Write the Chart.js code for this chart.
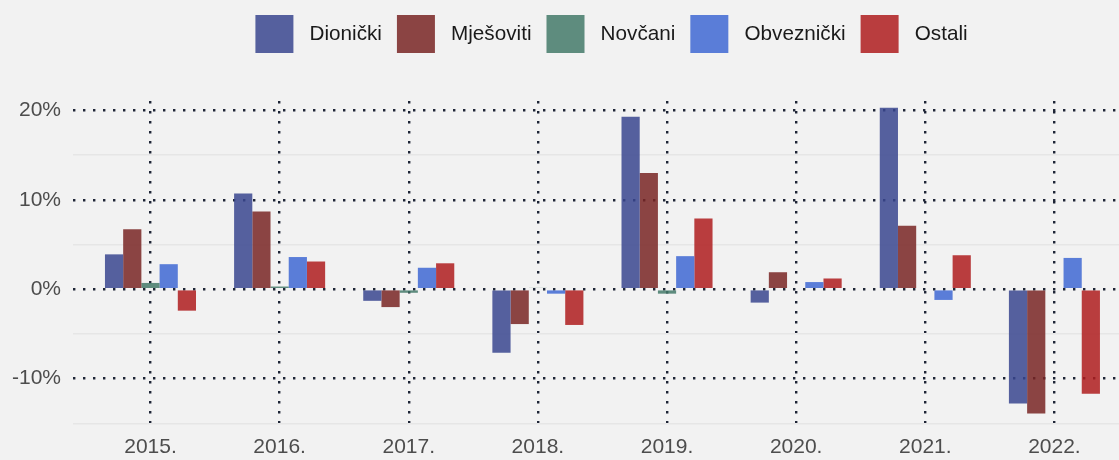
<!DOCTYPE html>
<html><head><meta charset="utf-8">
<script src="https://cdn.jsdelivr.net/npm/chart.js@4/dist/chart.umd.min.js"></script>
<style>html,body{margin:0;padding:0;background:#f2f2f2;overflow:hidden}canvas{display:block}</style>
</head><body>
<canvas id="c" width="1119" height="460"></canvas>
<script>
const categories = ['2015.','2016.','2017.','2018.','2019.','2020.','2021.','2022.'];
const seriesNames = ['Dionički','Mješoviti','Novčani','Obveznički','Ostali'];
const dionicki   = [3.9, 10.7, -1.3, -7.1, 19.3, -1.5, 20.3, -12.8];
const mjesoviti  = [6.7, 8.7, -2.0, -3.9, 13.0, 1.9, 7.1, -13.9];
const novcani    = [0.7, 0.3, -0.4, 0.15, -0.5, 0, 0, 0];
const obveznicki = [2.8, 3.6, 2.4, -0.5, 3.7, 0.8, -1.2, 3.5];
const ostali     = [-2.4, 3.1, 2.9, -4.0, 7.9, 1.2, 3.8, -11.7];
const yTickValues = [-15, -10, -5, 0, 5, 10, 15, 20];
const seriesColors = ['rgba(57,71,143,0.85)','rgba(121,38,36,0.85)','rgba(68,122,106,0.85)','rgba(63,105,211,0.85)','rgba(175,29,30,0.85)'];

const seriesValues = [dionicki, mjesoviti, novcani, obveznicki, ostali];
const FONT = "'Liberation Sans', Arial, sans-serif";
const isMajor = v => Math.abs(v % 10) < 1e-9;

const datasets = seriesNames.map((name, k) => ({
  label: name,
  data: seriesValues[k].map((v, i) => ({x: i, y: v})),
  backgroundColor: seriesColors[k],
  borderWidth: 0,
  categoryPercentage: 0.705,
  barPercentage: 1.0
}));

const legendFit = {
  id: 'legendFit',
  beforeInit(chart) {
    const orig = chart.legend.fit;
    chart.legend.fit = function () { orig.call(this); this.height = 101; };
  },
  afterLayout(chart) {
    chart.legend.left += 52;
    chart.legend.right += 52;
  }
};

new Chart(document.getElementById('c'), {
  type: 'bar',
  data: { datasets },
  plugins: [legendFit],
  options: {
    responsive: false,
    animation: false,
    devicePixelRatio: 1,
    layout: { padding: 0 },
    plugins: {
      tooltip: { enabled: false },
      legend: {
        position: 'top',
        labels: {
          font: { family: FONT, size: 20.7 },
          color: '#1a1a1a',
          boxWidth: 38,
          boxHeight: 38,
          padding: 15,
          generateLabels(chart) {
            const items = Chart.defaults.plugins.legend.labels.generateLabels(chart);
            items.forEach(it => { it.text = ' ' + it.text; it.lineWidth = 0; });
            return items;
          }
        }
      }
    },
    scales: {
      x: {
        type: 'linear',
        offset: false,
        min: -0.6,
        max: 7.5,
        afterBuildTicks(scale) { scale.ticks = categories.map((_, i) => ({ value: i })); },
        afterFit(scale) { scale.height = 32; },
        ticks: {
          callback: v => categories[v],
          font: { family: FONT, size: 21 },
          color: '#4d4d4d',
          padding: 7,
          maxRotation: 0,
          autoSkip: false
        },
        grid: {
          offset: false,
          drawTicks: false,
          color: '#1e2536',
          lineWidth: 2.4
        },
        border: { display: false, dash: [2.4, 7.6] }
      },
      y: {
        min: -15.53,
        max: 21.06,
        afterBuildTicks(scale) { scale.ticks = yTickValues.map(v => ({ value: v })); },
        afterFit(scale) { scale.width = 73; },
        ticks: {
          callback: v => isMajor(v) ? v + '%' : '',
          font: { family: FONT, size: 21 },
          color: '#4d4d4d',
          padding: 12
        },
        grid: {
          drawTicks: false,
          color: ctx => (ctx.tick && isMajor(ctx.tick.value)) ? '#1e2536' : '#e6e6e6',
          lineWidth: ctx => (ctx.tick && isMajor(ctx.tick.value)) ? 2.4 : 1.5
        },
        border: {
          display: false,
          dash: ctx => (ctx.tick && isMajor(ctx.tick.value)) ? [2.4, 7.6] : []
        }
      }
    }
  }
});
</script>
</body></html>
